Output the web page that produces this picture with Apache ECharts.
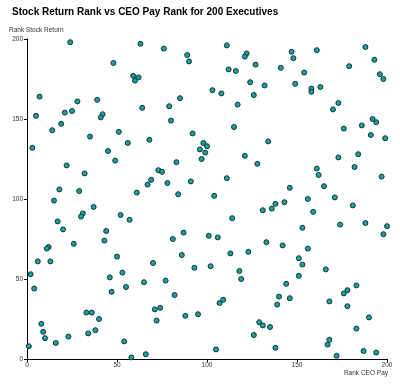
<!DOCTYPE html>
<html>
<head>
<meta charset="utf-8">
<script src="https://cdn.jsdelivr.net/npm/echarts@6/dist/echarts.min.js"></script>
<style>html,body{margin:0;padding:0;background:#fff}#c{width:400px;height:384px}</style>
</head>
<body>
<div id="c"></div>
<script>
const titleText = "Stock Return Rank vs CEO Pay Rank for 200 Executives";
const xName = "Rank CEO Pay";
const yName = "Rank Stock Return";
const xTicks = [0, 50, 100, 150, 200];
const yTicks = [0, 50, 100, 150, 200];
// CEO pay rank (x) and stock return rank (y)
const payRank = [24,63,48,7,59,62,60,28,39,5,21,25,64,42,41,19,14,51,35,56,68,
 76,89,90,111,122,121,127,112,116,124,132,103,108,126,85,79,117,80,115,92,98,100,96,99,97,134,
 147,161,148,141,154,149,158,158,163,188,193,179,196,198,173,170,192,194,186,176,191,199,
 3,45,49,22,32,18,29,15,67,61,37,31,30,52,57,17,20,44,43,26,12,11,
 6,13,2,4,50,53,46,47,55,65,33,36,40,8,9,10,34,38,23,16,1,54,58,66,
 121,128,83,73,75,69,78,91,111,84,104,131,114,87,81,101,106,133,
 173,184,161,182,162,197,165,146,156,171,143,138,136,159,181,153,174,188,200,198,142,156,
 86,70,93,102,113,123,118,119,77,82,71,74,72,88,95,107,109,129,131,135,126,105,
 151,153,166,151,144,140,146,139,183,178,176,168,178,190,183,138,168,167,172,187,194];
const returnRank = [198,197,185,164,177,176,174,161,162,152,154,155,157,153,151,147,143,142,139,135,137,
 194,190,186,196,191,189,184,181,180,173,171,168,166,165,163,158,159,149,145,141,135,133,131,129,125,136,
 192,193,188,182,179,172,169,167,170,195,187,183,178,175,160,156,150,148,146,144,140,138,
 132,130,124,121,116,106,105,99,109,104,95,91,89,90,87,86,81,80,74,72,70,69,
 61,61,53,44,64,54,51,42,45,48,29,29,25,22,17,13,16,18,14,10,8,11,1,3,
 127,122,123,118,117,112,110,111,113,103,102,93,88,79,75,77,76,73,
 126,128,119,120,115,114,108,107,100,101,98,97,94,92,96,82,84,85,83,78,71,69,
 65,60,57,58,66,67,55,50,49,40,31,32,24,27,28,35,37,23,21,20,15,6,
 63,59,56,52,47,39,38,34,46,43,41,36,33,26,19,7,12,9,2,5,4];
const pts = payRank.map((x, i) => [x, returnRank[i]]);

const chart = echarts.init(document.getElementById('c'), null, {renderer: 'canvas'});
const FF = 'Liberation Sans, Arial, sans-serif';
const axisFont = {fontFamily: FF, fontSize: 6.5, color: '#333'};
chart.setOption({
  animation: false,
  backgroundColor: '#fff',
  title: {
    text: titleText, left: 7, top: 2,
    textStyle: {fontFamily: FF, fontSize: 10, fontWeight: 'bold', color: '#000'}
  },
  grid: {left: 27, right: 13, top: 39, bottom: 25, containLabel: false},
  xAxis: {
    type: 'value', min: xTicks[0], max: xTicks[xTicks.length-1], interval: 50,
    axisLine: {show: true, lineStyle: {color: '#000', width: 1}},
    axisTick: {show: true, length: 3, lineStyle: {color: '#000'}},
    axisLabel: Object.assign({margin: 3}, axisFont),
    splitLine: {show: false}
  },
  yAxis: {
    type: 'value', min: yTicks[0], max: yTicks[yTicks.length-1], interval: 50,
    axisLine: {show: true, lineStyle: {color: '#000', width: 1}},
    axisTick: {show: true, length: 3, lineStyle: {color: '#000'}},
    axisLabel: Object.assign({margin: 4}, axisFont),
    splitLine: {show: false}
  },
  graphic: [
    {type: 'text', left: 9, top: 27, style: {text: yName, font: '6.5px "Liberation Sans", Arial, sans-serif', fill: '#333'}},
    {type: 'text', right: 12, top: 370, style: {text: xName, font: '6.5px "Liberation Sans", Arial, sans-serif', fill: '#333'}}
  ],
  series: [{
    type: 'scatter',
    data: pts,
    symbol: 'circle',
    symbolSize: 5,
    itemStyle: {color: '#0fa3a3', borderColor: '#1a3333', borderWidth: 1, opacity: 1}
  }]
});
</script>
</body>
</html>
